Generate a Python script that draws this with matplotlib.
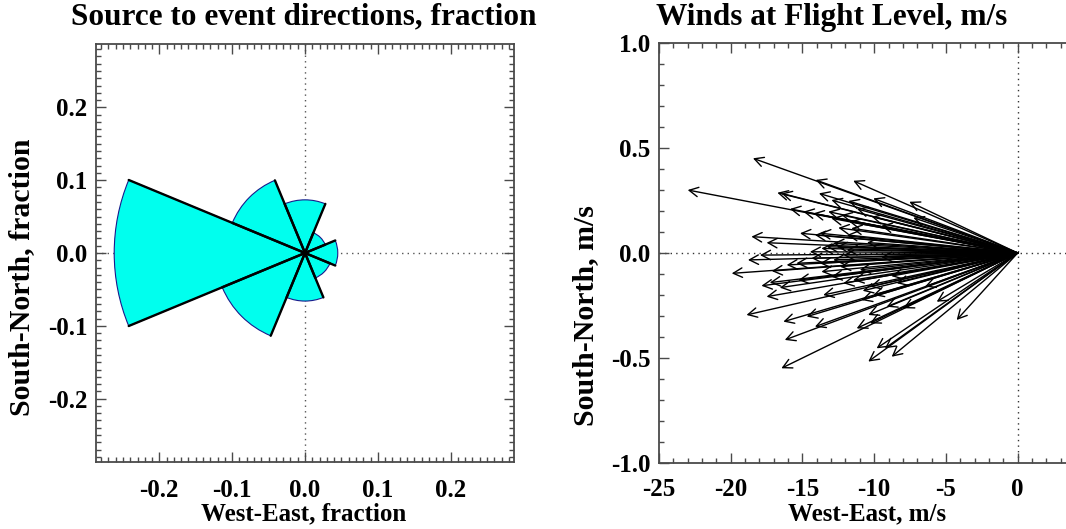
import numpy as np
import matplotlib
matplotlib.use("Agg")
import matplotlib.pyplot as plt
from matplotlib.patches import Wedge
from matplotlib.ticker import MultipleLocator

# ---- data -------------------------------------------------------------
# Rose of source-to-event directions: sector centre (deg, CCW from east) and fraction
sector_centres = [0, 45, 90, 135, 180, 225, 270, 315]
sector_fractions = [0.045, 0.030, 0.073, 0.108, 0.262, 0.123, 0.066, 0.037]
sector_width = 45.0

# Wind vectors at flight level: west-east (m/s) and south-north (m/s) components
wind_u = [-18.45, -23.0, -14.08, -11.46, -7.55, -10.06, -16.75, -16.47, -13.85, -12.98,
          -11.8, -15.87, -14.94, -14.24, -13.2, -12.98, -12.28, -11.73, -7.27, -10.17,
          -11.59, -18.56, -15.17, -14.13, -13.78, -17.5, -11.9, -12.85, -13.68, -18.8,
          -17.96, -14.48, -14.37, -16.1, -15.42, -19.93, -17.14, -13.68, -12.38, -17.86,
          -17.28, -16.58, -15.29, -17.5, -13.55, -18.9, -14.7, -16.33, -14.13, -16.23,
          -16.47, -11.22, -10.29, -10.41, -10.88, -9.13, -7.97, -9.83, -9.25, -10.41,
          -8.78, -4.25, -5.64, -8.43, -6.46, -10.29, -10.06, -12.15, -12.98, -11.46,
          -12.85, -12.15, -13.31, -12.61, -11.92, -13.78, -10.5, -9.5, -11.0, -8.8,
          -12.5, -11.2, -9.5, -10.8]
wind_v = [0.451, 0.30, 0.348, 0.344, 0.244, 0.26, 0.287, 0.284, 0.284, 0.252,
          0.248, 0.21, 0.197, 0.189, 0.197, 0.165, 0.181, 0.149, 0.168, 0.173,
          0.118, 0.078, 0.094, 0.086, 0.094, 0.049, 0.086, 0.046, 0.022, -0.033,
          -0.01, 0.006, -0.025, -0.057, -0.049, -0.097, -0.086, -0.089, -0.065, -0.156,
          -0.141, -0.165, -0.129, -0.208, -0.20, -0.295, -0.303, -0.327, -0.351, -0.414,
          -0.549, -0.359, -0.335, -0.295, -0.224, -0.256, -0.263, -0.454, -0.454, -0.517,
          -0.494, -0.319, -0.232, -0.144, -0.16, -0.16, -0.20, -0.144, -0.113, -0.129,
          -0.033, -0.01, 0.03, 0.03, 0.014, -0.049, 0.05, -0.02, -0.08, -0.11,
          0.12, 0.21, 0.13, -0.18]

left_ticks = [-0.2, -0.1, 0.0, 0.1, 0.2]
right_xticks = [-25, -20, -15, -10, -5, 0]
right_yticks = [-1.0, -0.5, 0.0, 0.5, 1.0]

# ---- figure -----------------------------------------------------------
W, H = 1066, 529
fig = plt.figure(figsize=(W / 100, H / 100), dpi=100)
plt.rcParams['font.family'] = ['Liberation Serif', 'DejaVu Serif']
plt.rcParams['font.weight'] = 'bold'

def px(x, y):
    return x / W, 1 - y / H

spine_col = '#4a4a4a'
TICK_FS = 18

def style_axes(ax, pad_x, pad_y, right=True):
    for s in ax.spines.values():
        s.set_color(spine_col)
        s.set_linewidth(1.3)
    ax.tick_params(which='both', direction='in', top=True, right=right,
                   color=spine_col, width=1.0)
    ax.tick_params(which='major', length=7)
    ax.tick_params(which='minor', length=3.5)
    ax.tick_params(axis='x', pad=pad_x, labelsize=TICK_FS)
    ax.tick_params(axis='y', pad=pad_y, labelsize=TICK_FS)
    for lab in ax.get_xticklabels() + ax.get_yticklabels():
        lab.set_fontweight('bold')

# Left: direction rose
ax1 = fig.add_axes([96 / W, 1 - 462 / H, 418 / W, 418 / H])
lim = 0.287
ax1.set_xlim(-lim, lim)
ax1.set_ylim(-lim, lim)
ax1.axhline(0, color='#555555', lw=1.0, ls=(0, (1, 3)), zorder=1)
ax1.axvline(0, color='#555555', lw=1.0, ls=(0, (1, 3)), zorder=1)
for c, r in zip(sector_centres, sector_fractions):
    t1, t2 = c - sector_width / 2, c + sector_width / 2
    ax1.add_patch(Wedge((0, 0), r, t1, t2, facecolor='#00ffee',
                        edgecolor='#1a1a8c', lw=0.8, zorder=2))
for c, r in zip(sector_centres, sector_fractions):
    for t in (c - sector_width / 2, c + sector_width / 2):
        a = np.deg2rad(t)
        ax1.plot([0, r * np.cos(a)], [0, r * np.sin(a)], color='black',
                 lw=1.7, zorder=3, solid_capstyle='round')
ax1.set_xticks(left_ticks)
ax1.set_yticks(left_ticks)
ax1.set_xticklabels([f"{v:.1f}" for v in left_ticks])
ax1.set_yticklabels([f"{v:.1f}" for v in left_ticks])
ax1.xaxis.set_minor_locator(MultipleLocator(0.01))
ax1.yaxis.set_minor_locator(MultipleLocator(0.01))
style_axes(ax1, 12, 6)

# Right: wind vectors
ax2 = fig.add_axes([659 / W, 1 - 463 / H, 416 / W, 420 / H])
ax2.set_xlim(-25, 4)
ax2.set_ylim(-1.0, 1.0)
ax2.axhline(0, color='#333333', lw=1.0, ls=(0, (1, 3)), zorder=1)
ax2.axvline(0, color='#333333', lw=1.0, ls=(0, (1, 3)), zorder=1)
for u, v in zip(wind_u, wind_v):
    ax2.annotate('', xy=(u, v), xytext=(0, 0), xycoords='data',
                 arrowprops=dict(arrowstyle='->,head_length=0.65,head_width=0.34',
                                 color='black', lw=1.0, shrinkA=0, shrinkB=0),
                 zorder=3)
ax2.set_xticks(right_xticks)
ax2.set_yticks(right_yticks)
ax2.set_xticklabels([f"{v:d}" for v in right_xticks])
ax2.set_yticklabels([f"{v:.1f}" for v in right_yticks])
ax2.xaxis.set_minor_locator(MultipleLocator(1))
ax2.yaxis.set_minor_locator(MultipleLocator(0.1))
style_axes(ax2, 11, 6, right=False)

# Titles and axis labels
fig.text(*px(304, 17), "Source to event directions, fraction", ha='center', va='center',
         fontsize=22.5, fontweight='bold')
fig.text(*px(832, 17), "Winds at Flight Level, m/s", ha='center', va='center',
         fontsize=22.5, fontweight='bold')
fig.text(*px(304, 514), "West-East, fraction", ha='center', va='center',
         fontsize=18, fontweight='bold')
fig.text(*px(867, 514), "West-East, m/s", ha='center', va='center',
         fontsize=18, fontweight='bold')
fig.text(*px(22, 277), "South-North, fraction", ha='center', va='center',
         rotation=90, fontsize=21.5, fontweight='bold')
fig.text(*px(586, 316), "South-North, m/s", ha='center', va='center',
         rotation=90, fontsize=21.5, fontweight='bold')

fig.savefig("out.png", dpi=100)
